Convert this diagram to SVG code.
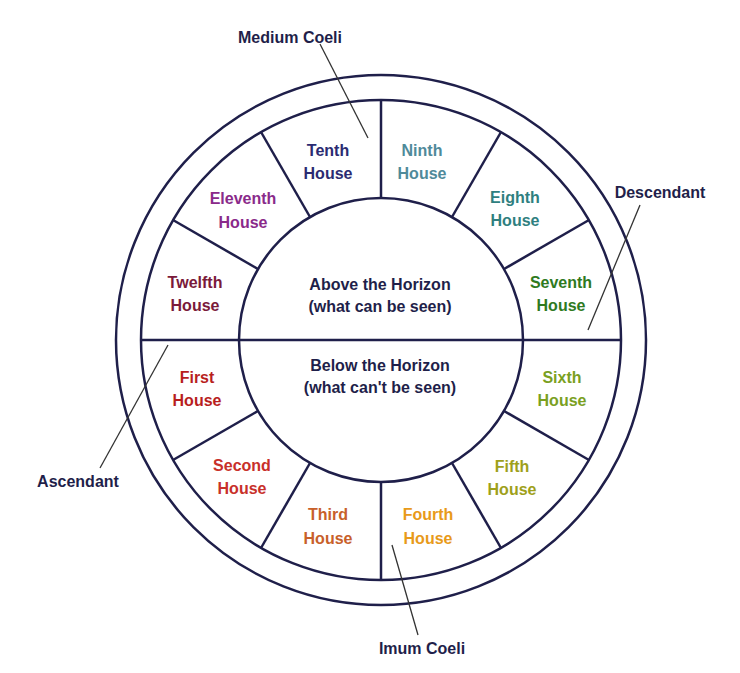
<svg xmlns="http://www.w3.org/2000/svg" width="740" height="673" viewBox="0 0 740 673">
<style>
.l{stroke:#1f1f4a;stroke-width:2.5;fill:none}
.t{font-family:"Liberation Sans",Arial,sans-serif;font-weight:bold;font-size:16px;text-anchor:middle}
.k{fill:#1f1f4a}
.ld{stroke:#333;stroke-width:1.3}
</style>
<rect width="740" height="673" fill="#fff"/>
<g id="wheel">
<circle class="l" cx="381" cy="340" r="265"/>
<circle class="l" cx="381" cy="340" r="240"/>
<circle class="l" cx="381" cy="340" r="142"/>
<line class="l" x1="141" y1="340" x2="621" y2="340"/>
<line class="l" x1="381" y1="100" x2="381" y2="198"/>
<line class="l" x1="381" y1="482" x2="381" y2="580"/>
<g transform="translate(381 340)">
<line class="l" x1="123" y1="-71" x2="208" y2="-120"/>
<line class="l" x1="71" y1="-123" x2="120" y2="-208"/>
<line class="l" x1="-123" y1="-71" x2="-208" y2="-120"/>
<line class="l" x1="-71" y1="-123" x2="-120" y2="-208"/>
<line class="l" x1="123" y1="71" x2="208" y2="120"/>
<line class="l" x1="71" y1="123" x2="120" y2="208"/>
<line class="l" x1="-123" y1="71" x2="-208" y2="120"/>
<line class="l" x1="-71" y1="123" x2="-120" y2="208"/>
</g>
</g>
<g id="connectors">
<line class="ld" x1="320" y1="44" x2="368" y2="138"/>
<line class="ld" x1="640" y1="205" x2="588" y2="330"/>
<line class="ld" x1="100" y1="468" x2="168" y2="345"/>
<line class="ld" x1="418" y1="635" x2="392" y2="545"/>
</g>
<g id="center" class="t k">
<text x="380" y="290">Above the Horizon</text>
<text x="380" y="312">(what can be seen)</text>
<text x="380" y="371">Below the Horizon</text>
<text x="380" y="393">(what can't be seen)</text>
</g>
<g id="labels" class="t k">
<text x="290" y="43">Medium Coeli</text>
<text x="660" y="198">Descendant</text>
<text x="78" y="487">Ascendant</text>
<text x="422" y="654">Imum Coeli</text>
</g>
<g id="houses" class="t">
<g id="h10" fill="#2b2b72"><text x="328" y="156">Tenth</text><text x="328" y="179">House</text></g>
<g id="h9" fill="#4f8a9a"><text x="422" y="156">Ninth</text><text x="422" y="179">House</text></g>
<g id="h8" fill="#2f7f80"><text x="515" y="203">Eighth</text><text x="515" y="226">House</text></g>
<g id="h7" fill="#2f7a1f"><text x="561" y="288">Seventh</text><text x="561" y="311">House</text></g>
<g id="h6" fill="#7aa01f"><text x="562" y="383">Sixth</text><text x="562" y="406">House</text></g>
<g id="h5" fill="#9ea01a"><text x="512" y="472">Fifth</text><text x="512" y="495">House</text></g>
<g id="h4" fill="#e89a1a"><text x="428" y="520">Fourth</text><text x="428" y="544">House</text></g>
<g id="h3" fill="#c8602a"><text x="328" y="520">Third</text><text x="328" y="544">House</text></g>
<g id="h2" fill="#c8302a"><text x="242" y="471">Second</text><text x="242" y="494">House</text></g>
<g id="h1" fill="#b81e1e"><text x="197" y="383">First</text><text x="197" y="406">House</text></g>
<g id="h12" fill="#7a1a3a"><text x="195" y="288">Twelfth</text><text x="195" y="311">House</text></g>
<g id="h11" fill="#8a2a8a"><text x="243" y="204">Eleventh</text><text x="243" y="228">House</text></g>
</g>
</svg>
